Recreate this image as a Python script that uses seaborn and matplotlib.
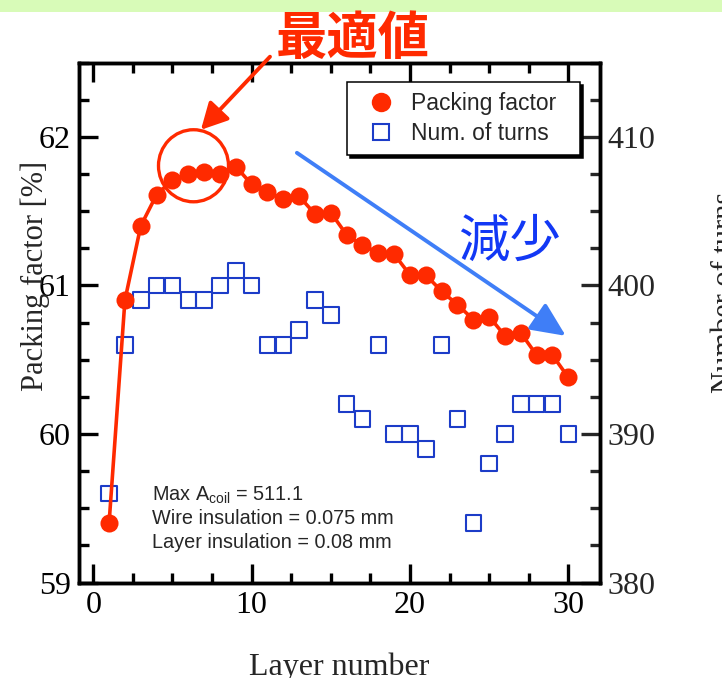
import numpy as np
import pandas as pd
import matplotlib
matplotlib.use("Agg")
import matplotlib.pyplot as plt
from matplotlib.lines import Line2D
from matplotlib.patches import Ellipse, Rectangle
from matplotlib.ticker import MultipleLocator
import seaborn as sns

# Data
layers = list(range(1, 31))
packing_factor = [59.40, 60.90, 61.40, 61.61, 61.71, 61.75, 61.76, 61.75, 61.80, 61.68,
                  61.63, 61.58, 61.60, 61.48, 61.49, 61.34, 61.27, 61.22, 61.21, 61.07,
                  61.07, 60.96, 60.87, 60.77, 60.79, 60.66, 60.68, 60.53, 60.53, 60.38]
num_turns = [386, 396, 399, 400, 400, 399, 399, 400, 401, 400,
             396, 396, 397, 399, 398, 392, 391, 396, 390, 390,
             389, 396, 391, 384, 388, 390, 392, 392, 392, 390]
series_labels = ["Packing factor", "Num. of turns"]
note_lines = ["Max A$_\\mathrm{coil}$ = 511.1",
              "Wire insulation = 0.075 mm",
              "Layer insulation = 0.08 mm"]

RED = "#ff2a00"
BLUE = "#1c3cc8"
ARROW_BLUE = "#3f7ef7"
TEXT_BLUE = "#1238f5"

sns.set_style("ticks")
plt.rcParams["font.family"] = ["Liberation Serif", "DejaVu Serif"]
plt.rcParams["mathtext.fontset"] = "custom"
plt.rcParams["mathtext.rm"] = "Liberation Sans"
plt.rcParams["mathtext.it"] = "Liberation Sans:italic"

df = pd.DataFrame({"layer": layers, "pf": packing_factor, "turns": num_turns})

fig = plt.figure(figsize=(7.22, 6.78), dpi=100)
fig.patch.set_facecolor("white")
# light green band on top of the slide
fig.patches.append(Rectangle((0, 1 - 12 / 678), 1, 12 / 678, transform=fig.transFigure,
                             facecolor="#d8fbb8", edgecolor="none", zorder=0))

ax = fig.add_axes([79 / 722, 1 - 582.5 / 678, 521 / 722, 520 / 678])
ax2 = ax.twinx()

sns.scatterplot(data=df, x="layer", y="turns", ax=ax2, marker="s", s=125,
                facecolor="none", edgecolor=BLUE, linewidth=1.5, legend=False)
sns.lineplot(data=df, x="layer", y="pf", ax=ax, color=RED, linewidth=2.6,
             marker="o", markersize=13, markeredgewidth=0, legend=False)

ax.set_zorder(ax2.get_zorder() + 1)
ax.patch.set_visible(False)

ax.set_xlim(-0.9, 32)
ax.set_ylim(59, 62.5)
ax2.set_ylim(380, 415)
ax.xaxis.set_major_locator(MultipleLocator(10))
ax.xaxis.set_minor_locator(MultipleLocator(2.5))
ax.yaxis.set_major_locator(MultipleLocator(1))
ax.yaxis.set_minor_locator(MultipleLocator(0.25))
ax2.yaxis.set_major_locator(MultipleLocator(10))
ax2.yaxis.set_minor_locator(MultipleLocator(2.5))

for a in (ax, ax2):
    for sp in a.spines.values():
        sp.set_linewidth(2.5)
        sp.set_color("black")
ax.tick_params(which="both", direction="in", width=2.4, top=True, right=False,
               labelsize=23, colors="black")
ax.tick_params(which="major", length=14, pad=6)
ax.tick_params(which="minor", length=7.2)
ax2.tick_params(which="both", direction="in", width=2.4, labelsize=23)
ax2.tick_params(which="major", length=14, pad=5)
ax2.tick_params(which="minor", length=7.2)

ax.set_xlabel("Layer number", fontsize=23)
ax.xaxis.set_label_coords(0.5, -0.134)
ax.set_ylabel("Packing factor [%]", fontsize=22)
ax.yaxis.set_label_coords(-0.056, 0.589)
ax2.set_ylabel("Number of turns", fontsize=22)
ax2.yaxis.set_label_coords(1.214, 0.557)

# legend with a hard black shadow
handles = [Line2D([], [], marker="o", linestyle="none", color=RED, markersize=14,
                  markeredgewidth=0),
           Line2D([], [], marker="s", linestyle="none", markerfacecolor="none",
                  markeredgecolor=BLUE, markersize=11, markeredgewidth=1.5)]
leg = ax.legend(handles, series_labels, loc="upper left", mode="expand",
                bbox_to_anchor=((347 - 79) / 521, 0, (580 - 347) / 521, 0.9625),
                borderaxespad=0, fancybox=False, framealpha=1, edgecolor="black",
                handlelength=2.1, handletextpad=0.26, labelspacing=0.28, borderpad=0.45,
                prop={"family": "Liberation Sans", "size": 16.5},
                shadow={"facecolor": "black", "edgecolor": "black", "alpha": 1})
leg.get_frame().set_linewidth(1.1)

# notes in the lower left
for i, line in enumerate(note_lines):
    ax.text(0.1405, 0.168 - i * 0.0455, line, transform=ax.transAxes, va="center",
            ha="left", fontsize=14.3, family="Liberation Sans")

# optimum highlight
ax.add_patch(Ellipse((6.33, 61.805), 4.42, 0.485, fill=False, edgecolor=RED,
                     linewidth=2.4, zorder=5))
ax.annotate("", xy=(6.80, 62.047), xytext=(11.16, 62.539), annotation_clip=False,
            arrowprops=dict(arrowstyle="-|>,head_length=0.8,head_width=0.42",
                            mutation_scale=20, color=RED, lw=2.8,
                            shrinkA=0, shrinkB=0))
fig.text(0.489, 0.943, "最適値", ha="center", va="center", fontsize=37,
         fontweight="bold", color=RED, family=["Noto Sans CJK JP", "DejaVu Sans"])

# decreasing trend
ax.annotate("", xy=(29.84, 60.66), xytext=(12.86, 61.892),
            arrowprops=dict(arrowstyle="-|>,head_length=1.05,head_width=0.48",
                            mutation_scale=20, color=ARROW_BLUE, lw=2.8,
                            shrinkA=0, shrinkB=0))
ax.text(26.25, 61.293, "減少", ha="center", va="center", fontsize=37,
        color=TEXT_BLUE, family=["Noto Sans CJK JP", "DejaVu Sans"])

fig.savefig("out.png", dpi=100)
